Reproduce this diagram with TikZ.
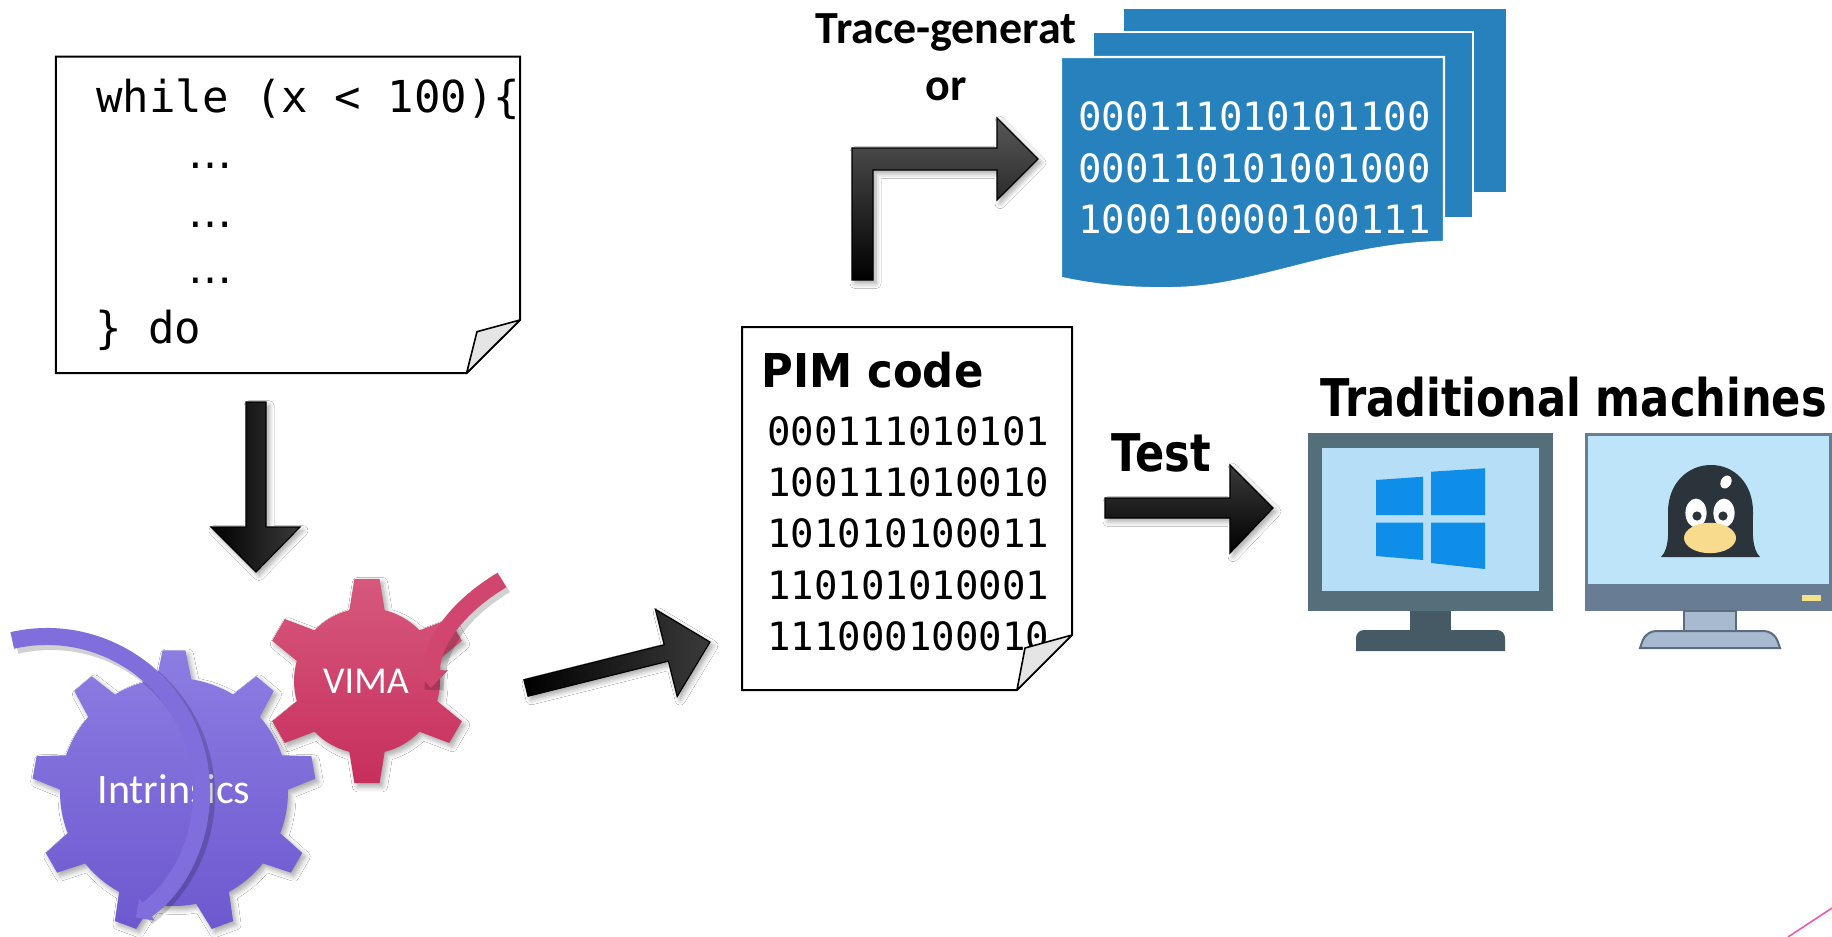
\documentclass[tikz,border=0pt]{standalone}
\usepackage{fontspec}
\usetikzlibrary{arrows.meta,shadows.blur}

\newfontfamily\codefont{DejaVu Sans Mono}
\newfontfamily\dotfont{DejaVu Sans}
\newfontfamily\calfont{Carlito}
\newfontfamily\headfont[FakeStretch=0.83]{DejaVu Sans Bold}
\newfontfamily\pimfont[FakeStretch=0.93]{DejaVu Sans Bold}

\definecolor{docblue}{RGB}{38,129,188}
\definecolor{winframe}{RGB}{84,110,122}
\definecolor{winstand}{RGB}{69,90,100}
\definecolor{winscreen}{RGB}{182,222,247}
\definecolor{winlogo}{RGB}{14,142,232}
\definecolor{tuxscreen}{RGB}{190,228,250}
\definecolor{tuxchin}{RGB}{104,124,148}
\definecolor{tuxstand}{RGB}{168,186,208}
\definecolor{tuxedge}{RGB}{92,108,128}
\definecolor{tuxbody}{RGB}{43,52,58}
\definecolor{tuxbeak}{RGB}{248,219,140}
\definecolor{ledyellow}{RGB}{244,226,138}
\definecolor{purpleA}{RGB}{140,125,226}
\definecolor{purpleB}{RGB}{110,88,207}
\definecolor{purplearc}{RGB}{128,110,220}
\definecolor{pinkA}{RGB}{214,88,124}
\definecolor{pinkB}{RGB}{199,47,92}
\definecolor{pinkarc}{RGB}{208,70,110}
\definecolor{foldgray}{RGB}{229,229,229}
\definecolor{slidepink}{RGB}{238,90,174}
\definecolor{arrowgray}{RGB}{58,58,58}

\tikzset{
  softshadow/.style={blur shadow={shadow xshift=1.5pt, shadow yshift=-1.8pt,
      shadow blur radius=2.5pt, shadow blur steps=6, shadow opacity=35}},
  blockarrow/.style={softshadow, draw=black, line width=0.6pt, line join=miter},
  paper/.style={draw=black, line width=1pt, fill=white, line join=miter},
  flap/.style={draw=black, line width=0.8pt, fill=foldgray, line join=round},
  codetxt/.style={font=\codefont\fontsize{22}{22}\selectfont, inner sep=0pt, anchor=base west},
  dottxt/.style={font=\dotfont\fontsize{22}{22}\selectfont, inner sep=0pt, anchor=base west},
  bintxt/.style={font=\codefont\fontsize{19.5}{19.5}\selectfont, inner sep=0pt, anchor=base west},
  headtxt/.style={font=\headfont\fontsize{26}{26}\selectfont, inner sep=0pt, anchor=base west},
  pimtxt/.style={font=\pimfont\fontsize{23.3}{23.3}\selectfont, inner sep=0pt, anchor=base west},
  tracetxt/.style={font=\calfont\bfseries\fontsize{23}{23}\selectfont, inner sep=0pt, anchor=base},
  geartxt/.style={text=white, inner sep=0pt, anchor=base},
  bluedoc/.style={fill=docblue, draw=white, line width=1.2pt},
}

\begin{document}
\begin{tikzpicture}[x=0.5pt, y=-0.5pt]
\fill[white] (0,0) rectangle (1832,937);
\useasboundingbox (0,0) rectangle (1832,937);

% ---------- source code sheet ----------
\path[paper] (55.8,56.7) -- (520,56.7) -- (520,320) -- (466.6,373) -- (55.8,373) -- cycle;
\node[codetxt] (loophead) at (96,112) {while (x < 100)\{};
\node[dottxt] (body1) at (188,168) {…};
\node[dottxt] (body2) at (188,227) {…};
\node[dottxt] (body3) at (188,283) {…};
\node[codetxt] (looptail) at (95,343) {\} do};
\path[flap] (477,331.7) -- (520,320) -- (466.6,373) -- cycle;

% ---------- arrow down to the gears ----------
\path[blockarrow, left color=black, right color=arrowgray]
  (246,402) -- (266,402) -- (266,527) -- (300,527) -- (256,572) -- (211,527) -- (246,527) -- cycle;

% ---------- VIMA gear ----------
\begin{scope}[shift={(367,681)}]
\path[softshadow, top color=pinkA, bottom color=pinkB]
  (104:36.5pt) \foreach \k in {0,...,5}{
    arc[start angle={90+60*\k+14}, end angle={90+60*(\k+1)-14}, radius=36.5pt]
    -- ({90+60*(\k+1)-7}:51.5pt) -- ({90+60*(\k+1)+7}:51.5pt) -- ({90+60*(\k+1)+14}:36.5pt)
  } -- cycle;
\end{scope}
\node[geartxt, font=\calfont\fontsize{19}{19}\selectfont] (vima) at (366,693) {VIMA};
\draw[line width=9.5pt, black, opacity=0.18, line cap=butt]
  (505,584) .. controls (463,609) and (435,644) .. (434,690);
\draw[line width=8.5pt, pinkarc, line cap=butt, -{Triangle[length=9pt,width=16pt]}]
  (502,580) .. controls (460,605) and (432,640) .. (431,688);

% ---------- Intrinsics gear ----------
\begin{scope}[shift={(174,792)}]
\path[softshadow, top color=purpleA, bottom color=purpleB]
  (98.8:57pt) \foreach \k in {0,...,8}{
    arc[start angle={90+40*\k+8.8}, end angle={90+40*(\k+1)-8.8}, radius=57pt]
    -- ({90+40*(\k+1)-4.6}:71pt) -- ({90+40*(\k+1)+4.6}:71pt) -- ({90+40*(\k+1)+8.8}:57pt)
  } -- cycle;
\end{scope}
\node[geartxt, font=\calfont\fontsize{21}{21}\selectfont] (intrinsics) at (174,803) {Intrinsics};
\draw[line width=9.5pt, black, opacity=0.18, line cap=butt]
  ([shift={(103:77.25pt)}]51,795) arc[start angle=103, end angle=-52, radius=77.25pt];
\draw[line width=8.5pt, purplearc, line cap=butt, -{Triangle[length=7pt,width=13pt]}]
  ([shift={(103:77.25pt)}]47,791) arc[start angle=103, end angle=-55, radius=77.25pt];

% ---------- arrow to the PIM code ----------
\path[blockarrow, left color=black, right color=arrowgray]
  (523.9,679.8) -- (664.2,644.7) -- (655.4,609.3) -- (710,642) -- (677.2,696.5)
  -- (668.4,661.1) -- (528.1,696.2) -- cycle;

% ---------- PIM code sheet ----------
\path[paper] (742,327) -- (1072,327) -- (1072,635) -- (1017,690) -- (742,690) -- cycle;
\node[pimtxt] (pimtitle) at (761,387) {PIM code};
\node[bintxt] (pim1) at (767,445) {000111010101};
\node[bintxt] (pim2) at (767,496) {100111010010};
\node[bintxt] (pim3) at (767,547) {101010100011};
\node[bintxt] (pim4) at (767,599) {110101010001};
\node[bintxt] (pim5) at (767,650) {111000100010};
\path[flap] (1025,648) -- (1072,635) -- (1017,690) -- cycle;

% ---------- bent arrow to the trace files ----------
\path[blockarrow, top color=arrowgray!85, bottom color=black]
  (852,280) -- (852,148) -- (997,148) -- (997,118) -- (1038,159) -- (997,200)
  -- (997,170) -- (873,170) -- (873,280) -- cycle;
\node[tracetxt] (tracegen) at (946,43) {Trace-generat};
\node[tracetxt] (traceor) at (946,100) {or};

% ---------- stack of trace files ----------
\path[bluedoc] (1123,8) rectangle (1507,193);
\path[bluedoc] (1093,32) rectangle (1473,218);
\path[bluedoc] (1061,57) -- (1444,57) -- (1444,242)
  .. controls (1340,244) and (1260,285) .. (1180,288)
  .. controls (1120,290) and (1080,282) .. (1061,278) -- cycle;
\node[bintxt, text=white] (trace1) at (1078,130) {000111010101100};
\node[bintxt, text=white] (trace2) at (1078,182) {000110101001000};
\node[bintxt, text=white] (trace3) at (1078,233) {100010000100111};

% ---------- test arrow ----------
\path[blockarrow, top color=arrowgray, bottom color=black]
  (1105,498) -- (1230,498) -- (1230,465) -- (1273,508) -- (1230,553) -- (1230,518) -- (1105,518) -- cycle;
\node[headtxt] (testlbl) at (1111,471) {Test};
\node[headtxt] (machineslbl) at (1320,416) {Traditional machines};

% ---------- Windows machine ----------
\fill[winframe] (1308,433) rectangle (1553,611);
\fill[winscreen] (1322,448) rectangle (1539,591);
\fill[winstand] (1410,611) rectangle (1451,631);
\fill[winstand] (1356,651) [rounded corners=4pt] -- (1356,630) -- (1505,630) [sharp corners] -- (1505,651) -- cycle;
\fill[winlogo] (1376,480) -- (1423,476.7) -- (1423,515) -- (1376,515) -- cycle;
\fill[winlogo] (1431,471.7) -- (1485,468.3) -- (1485,515) -- (1431,515) -- cycle;
\fill[winlogo] (1376,522.7) -- (1423,522.7) -- (1423,560) -- (1376,556) -- cycle;
\fill[winlogo] (1431,522.7) -- (1485,522.7) -- (1485,569) -- (1431,563) -- cycle;

% ---------- Linux machine ----------
\fill[tuxchin] (1585,433) rectangle (1833,611);
\fill[tuxscreen] (1588,436) rectangle (1829,584);
\fill[ledyellow] (1802,595) rectangle (1821,601);
\filldraw[fill=tuxstand, draw=tuxedge, line width=1pt] (1684,611) rectangle (1736,631);
\filldraw[fill=tuxstand, draw=tuxedge, line width=1pt]
  (1640,648) [rounded corners=5pt] -- (1646,631) -- (1774,631) [sharp corners] -- (1780,648) -- cycle;
% penguin head
\fill[tuxbody] (1661,557) .. controls (1670,548) and (1668,530) .. (1668,512)
  .. controls (1668,483) and (1688,465) .. (1711,465)
  .. controls (1734,465) and (1753,483) .. (1753,512)
  .. controls (1753,530) and (1751,548) .. (1760,557) -- cycle;
\fill[white, rotate around={-30:(1726,482)}] (1726,482) ellipse[x radius=2.6pt, y radius=3.4pt];
\fill[white] (1696,513) ellipse[x radius=5.3pt, y radius=7.2pt];
\fill[white] (1724,513) ellipse[x radius=5.3pt, y radius=7.2pt];
\fill[tuxbody] (1697,516) circle[radius=2.3pt];
\fill[tuxbody] (1723,516) circle[radius=2.3pt];
\fill[tuxbeak] (1710,538) ellipse[x radius=13pt, y radius=7.6pt];
\fill[tuxbody] (1709,520) circle[radius=1pt];

% ---------- slide accent ----------
\draw[slidepink, line width=0.8pt] (1788,937) -- (1832,908);
\end{tikzpicture}
\end{document}
